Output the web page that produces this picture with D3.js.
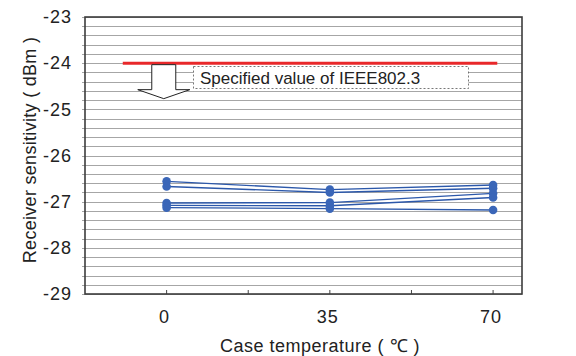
<!DOCTYPE html>
<html>
<head>
<meta charset="utf-8">
<script src="https://cdn.jsdelivr.net/npm/d3@7"></script>
<style>
  body { margin: 0; background: #fff; }
  svg { display: block; font-family: "Liberation Sans", Arial, sans-serif; }
</style>
</head>
<body>
<svg id="chart" width="576" height="356"></svg>
<script>
// case temperatures (deg C)
const temps = [0, 35, 70];
const tempLabels = ["0", "35", "70"];
// receiver sensitivity per module (dBm)
const sample1 = [-26.56, -26.74, -26.64];
const sample2 = [-26.67, -26.80, -26.71];
const sample3 = [-27.03, -27.02, -26.82];
const sample4 = [-27.08, -27.09, -26.91];
const sample5 = [-27.13, -27.15, -27.18];
const yTickLabels = [-23, -24, -25, -26, -27, -28, -29];
// IEEE802.3 spec line
const specValue = -24;
const specRange = [-9.4, 70.9];
const specLabel = "Specified value of IEEE802.3";

const series = [sample1, sample2, sample3, sample4, sample5];

const svg = d3.select("#chart");
const plotL = 85, plotR = 522, plotT = 17, plotB = 294;

const x = d3.scaleLinear().domain([-17.5, 76.2]).range([plotL, plotR]);
const y = d3.scaleLinear().domain([-29, -23]).range([plotB, plotT]);

// gridlines every 0.2
const grid = d3.range(-29, -22.99, 0.2).map(d => +d.toFixed(1));
svg.append("g")
  .selectAll("line")
  .data(grid)
  .enter().append("line")
  .attr("x1", plotL - 3)
  .attr("x2", plotR)
  .attr("y1", d => Math.round(y(d)) + 0.5)
  .attr("y2", d => Math.round(y(d)) + 0.5)
  .attr("stroke", "#a6a6a6")
  .attr("stroke-width", 1);

// x ticks (inside)
svg.append("g")
  .selectAll("line")
  .data(d3.range(0, 70.1, 17.5))
  .enter().append("line")
  .attr("x1", d => x(d))
  .attr("x2", d => x(d))
  .attr("y1", plotB)
  .attr("y2", plotB - 4)
  .attr("stroke", "#444")
  .attr("stroke-width", 1);

// plot border
svg.append("rect")
  .attr("x", plotL)
  .attr("y", plotT)
  .attr("width", plotR - plotL)
  .attr("height", plotB - plotT)
  .attr("fill", "none")
  .attr("stroke", "#3c3c3c")
  .attr("stroke-width", 1.6);

// y tick labels
svg.append("g")
  .selectAll("text")
  .data(yTickLabels)
  .enter().append("text")
  .attr("x", 72)
  .attr("y", d => y(d))
  .attr("dy", "0.35em")
  .attr("text-anchor", "end")
  .style("font-size", "18px")
  .style("letter-spacing", "1px")
  .style("fill", "#222")
  .text(d => d);

// x tick labels
svg.append("g")
  .selectAll("text")
  .data(temps)
  .enter().append("text")
  .attr("x", d => x(d) - 2)
  .attr("y", 323)
  .attr("text-anchor", "middle")
  .style("font-size", "18px")
  .style("letter-spacing", "1px")
  .style("fill", "#222")
  .text((d, i) => tempLabels[i]);

// axis titles
svg.append("text")
  .attr("x", 320)
  .attr("y", 352)
  .attr("text-anchor", "middle")
  .style("font-size", "18px")
  .style("letter-spacing", "0.5px")
  .style("fill", "#222")
  .text("Case temperature ( \u2103 )");

svg.append("text")
  .attr("transform", "translate(36,150) rotate(-90)")
  .attr("text-anchor", "middle")
  .style("font-size", "18px")
  .style("letter-spacing", "0.3px")
  .style("fill", "#222")
  .text("Receiver sensitivity ( dBm )");

// spec line
svg.append("line")
  .attr("x1", x(specRange[0]))
  .attr("x2", x(specRange[1]))
  .attr("y1", y(specValue))
  .attr("y2", y(specValue))
  .attr("stroke", "#e8282a")
  .attr("stroke-width", 3);

// block arrow pointing down
const ax = x(specRange[0]) + 41, ay = y(specValue) + 1.5;
const arrow = [[ax - 12, ay], [ax + 12, ay], [ax + 12, ay + 25], [ax + 26, ay + 25],
  [ax, ay + 34], [ax - 26, ay + 25], [ax - 12, ay + 25]];
svg.append("path")
  .attr("d", d3.line()(arrow) + "Z")
  .attr("fill", "#fff")
  .attr("stroke", "#222")
  .attr("stroke-width", 1);

// label box
svg.append("rect")
  .attr("x", 193.5)
  .attr("y", 66.5)
  .attr("width", 275)
  .attr("height", 22)
  .attr("fill", "#fff")
  .attr("stroke", "#555")
  .attr("stroke-width", 0.8)
  .attr("stroke-dasharray", "2,2");
svg.append("text")
  .attr("x", 200)
  .attr("y", 84)
  .style("font-size", "17px")
  .style("fill", "#222")
  .text(specLabel);

// data lines
const line = d3.line()
  .x((d, i) => x(temps[i]))
  .y(d => y(d));
svg.append("g")
  .selectAll("path")
  .data(series)
  .enter().append("path")
  .attr("d", line)
  .attr("fill", "none")
  .attr("stroke", "#2c58aa")
  .attr("stroke-width", 1.4);

// markers
series.forEach(s => {
  svg.append("g")
    .selectAll("circle")
    .data(s)
    .enter().append("circle")
    .attr("cx", (d, i) => x(temps[i]))
    .attr("cy", d => y(d))
    .attr("r", 4.3)
    .attr("fill", "#3a66b8");
});
</script>
</body>
</html>
